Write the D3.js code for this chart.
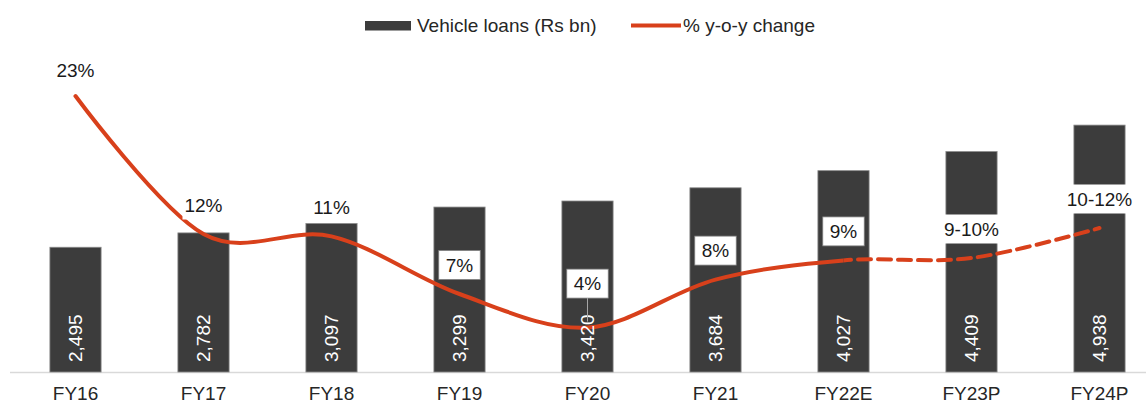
<!DOCTYPE html>
<html>
<head>
<meta charset="utf-8">
<script src="https://cdn.jsdelivr.net/npm/d3@7"></script>
<style>
  body { margin: 0; background: #fff; }
  svg { display: block; font-family: "Liberation Sans", Arial, sans-serif; }
</style>
</head>
<body>
<div id="chart"></div>
<script>
// Datos (alturas; las etiquetas son las del grafico)
var categories = ["FY16", "FY17", "FY18", "FY19", "FY20", "FY21", "FY22E", "FY23P", "FY24P"];
var loans = [2495, 2782, 2970, 3299, 3420, 3684, 4027, 4409, 4938];
var loanLabels = ["2,495", "2,782", "3,097", "3,299", "3,420", "3,684", "4,027", "4,409", "4,938"];
var growth = [23, 11.5, 11.3, 6.5, 3.7, 7.7, 9.3, 9.5, 12.0];
var growthLabels = ["23%", "12%", "11%", "7%", "4%", "8%", "9%", "9-10%", "10-12%"];
var firstProjected = "FY22E";

var W = 1146, H = 401;
var red = "#d8401b", barColor = "#3c3c3c";

var svg = d3.select("#chart").append("svg")
  .attr("width", W).attr("height", H);

// Escalas
var x = d3.scaleBand()
  .domain(categories)
  .range([11.5, 1163.5])
  .paddingInner(0.6)
  .paddingOuter(0.3);
var y = d3.scaleLinear().domain([0, 6000]).range([372, 72]);
var y2 = d3.scaleLinear().domain([0, 25]).range([372, 72]);
function cx(d) { return x(d) + x.bandwidth() / 2; }

// Eje X
svg.append("line")
  .attr("x1", 10).attr("x2", W)
  .attr("y1", 372.5).attr("y2", 372.5)
  .attr("stroke", "#d9d9d9").attr("stroke-width", 1.5);

svg.append("g").selectAll("text")
  .data(categories)
  .enter().append("text")
  .attr("x", function(d) { return cx(d); })
  .attr("y", 400)
  .attr("text-anchor", "middle")
  .style("font-size", "19px")
  .style("fill", "#262626")
  .text(function(d) { return d; });

// Barras
svg.append("g").selectAll("rect")
  .data(categories)
  .enter().append("rect")
  .attr("x", function(d) { return x(d); })
  .attr("width", x.bandwidth())
  .attr("y", function(d, i) { return y(loans[i]); })
  .attr("height", function(d, i) { return y(0) - y(loans[i]); })
  .attr("fill", barColor)
  .attr("stroke", "#8a8a8a")
  .attr("stroke-width", 0.8);

// Linea (suave), continua hasta FY22E y discontinua despues
var pts = categories.map(function(d, i) { return [cx(d), y2(growth[i])]; });
var lineGen = d3.line().curve(d3.curveCatmullRom.alpha(0));
var splitX = cx(firstProjected);

var defs = svg.append("defs");
defs.append("clipPath").attr("id", "clipSolid")
  .append("rect").attr("x", 0).attr("y", 0).attr("width", splitX).attr("height", H);
defs.append("clipPath").attr("id", "clipDash")
  .append("rect").attr("x", splitX).attr("y", 0).attr("width", W - splitX).attr("height", H);

svg.append("path")
  .attr("d", lineGen(pts))
  .attr("fill", "none")
  .attr("stroke", red)
  .attr("stroke-width", 4)
  .attr("stroke-linecap", "round")
  .attr("clip-path", "url(#clipSolid)");

svg.append("path")
  .attr("d", lineGen(pts.slice(categories.indexOf(firstProjected) - 1)))
  .attr("fill", "none")
  .attr("stroke", red)
  .attr("stroke-width", 4)
  .attr("stroke-dasharray", "13,7")
  .attr("stroke-dashoffset", -4)
  .attr("stroke-linecap", "round")
  .attr("clip-path", "url(#clipDash)");

// Valores dentro de las barras
svg.append("g").selectAll("text")
  .data(categories)
  .enter().append("text")
  .attr("transform", function(d) { return "translate(" + (cx(d) - 0.5) + ",362) rotate(-90)"; })
  .attr("dy", "0.35em")
  .style("font-size", "19px")
  .style("fill", "#fff")
  .text(function(d, i) { return loanLabels[i]; });

// Etiquetas de %
var labelDy = { FY16: -26, FY20: -44 };
var bordered = ["FY19", "FY20", "FY21", "FY22E"];

var lab = svg.append("g").selectAll("g")
  .data(categories)
  .enter().append("g")
  .attr("transform", function(d, i) {
    var dy = labelDy[d] !== undefined ? labelDy[d] : -29;
    return "translate(" + cx(d) + "," + (y2(growth[i]) + dy) + ")";
  });

lab.each(function(d, i) {
  var g = d3.select(this);
  var box = g.append("rect");
  var t = g.append("text")
    .attr("text-anchor", "middle")
    .attr("dy", "0.35em")
    .style("font-size", "19px")
    .style("fill", "#1a1a1a")
    .text(growthLabels[i]);
  var w = t.node().getComputedTextLength();
  var hasBorder = bordered.indexOf(d) >= 0;
  var pad = hasBorder ? 7 : 2;
  box.attr("x", -w / 2 - pad).attr("y", -14.5)
    .attr("width", w + 2 * pad).attr("height", 29)
    .attr("fill", "#fff")
    .attr("stroke", hasBorder ? "#7f7f7f" : "none")
    .attr("stroke-width", 0.8);
  if (d === "FY20") {
    g.append("line")
      .attr("x1", 0).attr("x2", 0)
      .attr("y1", 14.5).attr("y2", 38)
      .attr("stroke", "#a6a6a6").attr("stroke-width", 1);
  }
});

// Leyenda
var legend = svg.append("g");
legend.append("rect")
  .attr("x", 365).attr("y", 21).attr("width", 46).attr("height", 9.5)
  .attr("fill", barColor);
legend.append("text")
  .attr("x", 417).attr("y", 25.5).attr("dy", "0.35em")
  .style("font-size", "19px").style("fill", "#262626")
  .text("Vehicle loans (Rs bn)");
legend.append("line")
  .attr("x1", 631).attr("x2", 681).attr("y1", 25.5).attr("y2", 25.5)
  .attr("stroke", red).attr("stroke-width", 4);
legend.append("text")
  .attr("x", 683).attr("y", 25.5).attr("dy", "0.35em")
  .style("font-size", "19px").style("fill", "#262626")
  .text("% y-o-y change");
</script>
</body>
</html>
